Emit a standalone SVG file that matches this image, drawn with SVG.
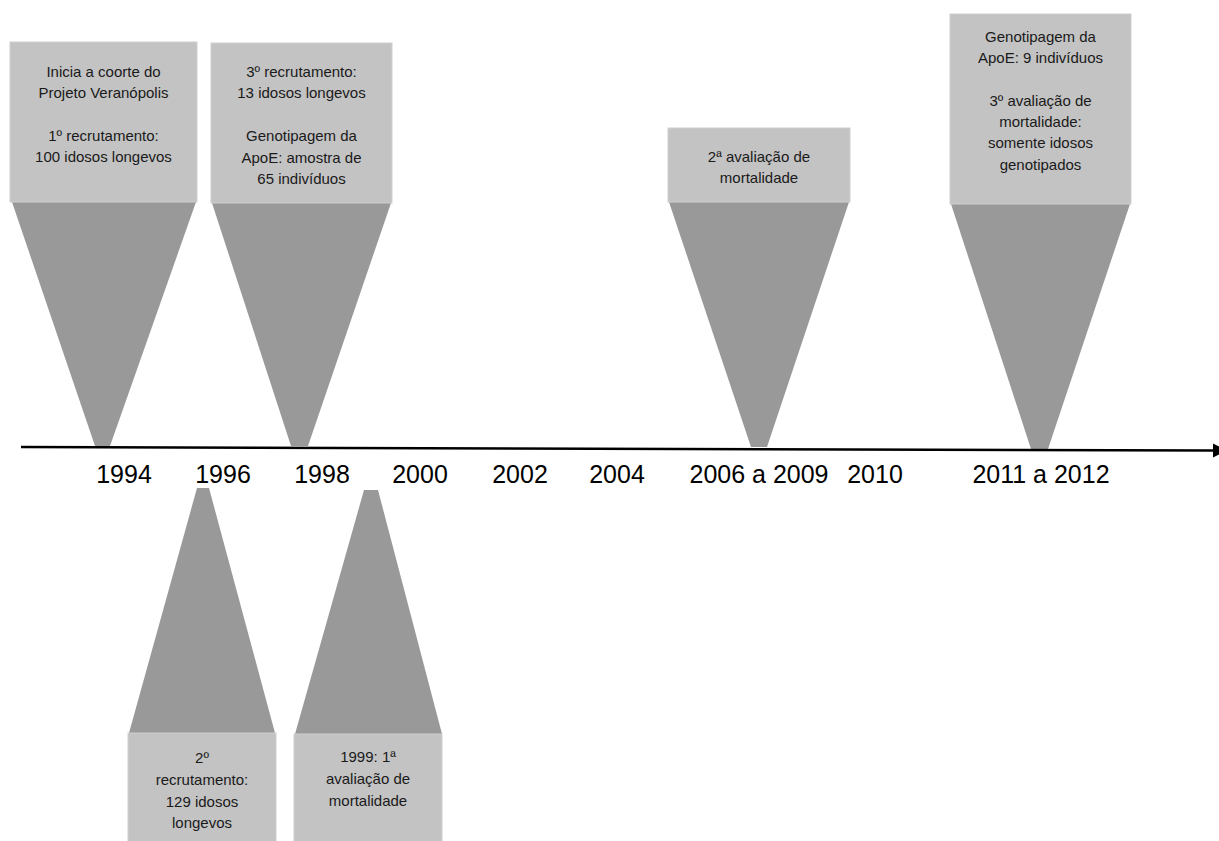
<svg xmlns="http://www.w3.org/2000/svg" width="1219" height="841" viewBox="0 0 1219 841">
<style>
.box{fill:#c3c3c3;stroke:#cfcfcf;stroke-width:1}
.tri{fill:#999999}
.t{font-family:"Liberation Sans",Arial,sans-serif;font-size:15px;fill:#1a1a1a;text-anchor:middle}
.yr{font-family:"Liberation Sans",Arial,sans-serif;font-size:25px;fill:#000;text-anchor:middle}
</style>
<defs>
<marker id="arr" markerWidth="14" markerHeight="14" refX="0" refY="7" orient="auto" markerUnits="userSpaceOnUse" overflow="visible">
<path d="M0,0 L14,7 L0,14 Z" fill="#000"/>
</marker>
</defs>
<rect width="1219" height="841" fill="#fff"/>

<g id="node-1994">
<polygon class="tri" points="12,202 196,202 110,446 95,446"/>
<rect class="box" x="10" y="42" width="187" height="160"/>
<text class="t" x="103.5" y="77">Inicia a coorte do</text>
<text class="t" x="103.5" y="98">Projeto Veranópolis</text>
<text class="t" x="103.5" y="141">1º recrutamento:</text>
<text class="t" x="103.5" y="162">100 idosos longevos</text>
</g>

<g id="node-1998">
<polygon class="tri" points="212,203 391,203 308,446 291,446"/>
<rect class="box" x="211" y="43" width="181" height="160"/>
<text class="t" x="301.5" y="77">3º recrutamento:</text>
<text class="t" x="301.5" y="98">13 idosos longevos</text>
<text class="t" x="301.5" y="141">Genotipagem da</text>
<text class="t" x="301.5" y="163">ApoE: amostra de</text>
<text class="t" x="301.5" y="184">65 indivíduos</text>
</g>

<g id="node-2006">
<polygon class="tri" points="669,202 849,202 767,447 751,447"/>
<rect class="box" x="668" y="128" width="182" height="74"/>
<text class="t" x="759" y="162">2ª avaliação de</text>
<text class="t" x="759" y="183">mortalidade</text>
</g>

<g id="node-2011">
<polygon class="tri" points="951,204 1130,204 1048,449 1031,449"/>
<rect class="box" x="950" y="14" width="181" height="190"/>
<text class="t" x="1040.5" y="42">Genotipagem da</text>
<text class="t" x="1040.5" y="63">ApoE: 9 indivíduos</text>
<text class="t" x="1040.5" y="106">3º avaliação de</text>
<text class="t" x="1040.5" y="127">mortalidade:</text>
<text class="t" x="1040.5" y="148">somente idosos</text>
<text class="t" x="1040.5" y="170">genotipados</text>
</g>

<g id="node-1996">
<polygon class="tri" points="197,488 209,488 275,733 129,733"/>
<rect class="box" x="128" y="733" width="148" height="112"/>
<text class="t" x="202" y="763">2º</text>
<text class="t" x="202" y="785">recrutamento:</text>
<text class="t" x="202" y="807">129 idosos</text>
<text class="t" x="202" y="828">longevos</text>
</g>

<g id="node-1999">
<polygon class="tri" points="364,490 378,490 442,734 295,734"/>
<rect class="box" x="294" y="734" width="148" height="112"/>
<text class="t" x="368" y="762">1999: 1ª</text>
<text class="t" x="368" y="784">avaliação de</text>
<text class="t" x="368" y="806">mortalidade</text>
</g>

<g id="connectors">
<line x1="21" y1="447" x2="1213" y2="450.5" stroke="#000" stroke-width="2.5" marker-end="url(#arr)"/>
</g>

<g id="years">
<text class="yr" x="124" y="483">1994</text>
<text class="yr" x="223" y="483">1996</text>
<text class="yr" x="322" y="483">1998</text>
<text class="yr" x="420" y="483">2000</text>
<text class="yr" x="520" y="483">2002</text>
<text class="yr" x="617" y="483">2004</text>
<text class="yr" x="759" y="483">2006 a 2009</text>
<text class="yr" x="875" y="483">2010</text>
<text class="yr" x="1041" y="483">2011 a 2012</text>
</g>
</svg>
